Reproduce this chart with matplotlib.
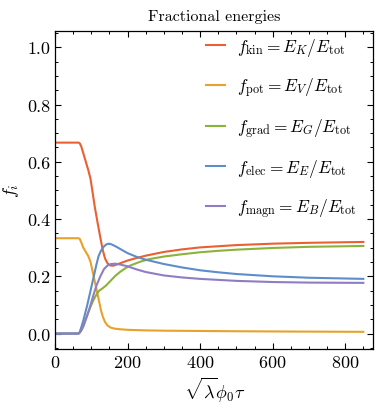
import numpy as np
import matplotlib
matplotlib.use("Agg")
import matplotlib.pyplot as plt
from matplotlib.ticker import MultipleLocator, FormatStrFormatter

plt.rcParams['font.family'] = 'serif'
plt.rcParams['font.serif'] = ['cmr10', 'DejaVu Serif']
plt.rcParams['mathtext.fontset'] = 'cm'
plt.rcParams['axes.formatter.use_mathtext'] = True
plt.rcParams['axes.unicode_minus'] = False

# Data
x_kin = [0, 65, 68, 72, 78, 85, 92, 98, 104, 110, 117, 125, 132, 138, 145, 152, 160, 170,
         185, 200, 225, 250, 300, 350, 400, 450, 500, 600, 700, 850]
y_kin = [0.667, 0.667, 0.665, 0.655, 0.63, 0.60, 0.57, 0.54, 0.49, 0.44, 0.39, 0.335, 0.29,
         0.262, 0.245, 0.238, 0.237, 0.241, 0.248, 0.255, 0.264, 0.272, 0.285, 0.294, 0.301,
         0.305, 0.309, 0.314, 0.317, 0.320]

x_pot = [0, 65, 68, 72, 78, 85, 92, 98, 104, 110, 116, 122, 127, 132, 138, 145, 153, 165,
         180, 200, 250, 300, 400, 500, 650, 850]
y_pot = [0.333, 0.333, 0.331, 0.32, 0.30, 0.285, 0.27, 0.25, 0.215, 0.18, 0.145, 0.11, 0.08,
         0.058, 0.04, 0.028, 0.021, 0.017, 0.015, 0.013, 0.011, 0.010, 0.009, 0.008, 0.007, 0.006]

x_grad = [0, 65, 68, 72, 78, 85, 92, 100, 108, 115, 122, 130, 140, 150, 165, 180, 195, 210,
          235, 260, 300, 350, 400, 450, 500, 600, 700, 850]
y_grad = [0.0, 0.0, 0.003, 0.01, 0.025, 0.05, 0.075, 0.10, 0.122, 0.138, 0.15, 0.157, 0.167,
          0.18, 0.20, 0.216, 0.229, 0.239, 0.251, 0.26, 0.269, 0.277, 0.284, 0.289, 0.293,
          0.299, 0.303, 0.306]

x_elec = [0, 65, 68, 72, 78, 84, 89, 98, 107, 114, 120, 127, 134, 141, 148, 155, 165, 175,
          190, 200, 225, 250, 300, 350, 400, 450, 500, 600, 700, 850]
y_elec = [0.0, 0.0, 0.005, 0.02, 0.045, 0.075, 0.10, 0.15, 0.20, 0.24, 0.27, 0.29, 0.303,
          0.311, 0.314, 0.312, 0.306, 0.299, 0.288, 0.281, 0.268, 0.258, 0.243, 0.231, 0.221,
          0.214, 0.208, 0.200, 0.195, 0.191]

x_magn = [0, 65, 68, 72, 78, 85, 92, 98, 106, 115, 125, 135, 145, 155, 167, 180, 200, 225,
          250, 300, 350, 400, 500, 600, 700, 850]
y_magn = [0.0, 0.0, 0.003, 0.01, 0.025, 0.05, 0.075, 0.10, 0.135, 0.17, 0.20, 0.225, 0.238,
          0.243, 0.244, 0.241, 0.235, 0.224, 0.215, 0.203, 0.196, 0.191, 0.184, 0.180, 0.178,
          0.177]

labels = [r'$f_{\rm kin} = E_K/E_{\rm tot}$',
          r'$f_{\rm pot} = E_V/E_{\rm tot}$',
          r'$f_{\rm grad} = E_G/E_{\rm tot}$',
          r'$f_{\rm elec} = E_E/E_{\rm tot}$',
          r'$f_{\rm magn} = E_B/E_{\rm tot}$']
colors = ['#EB5F33', '#E8A12A', '#8BB33A', '#5E8DC9', '#8E7DC3']

fig = plt.figure(figsize=(3.88, 4.06), dpi=100)
ax = fig.add_axes([55/388, 1-350/406, (373.5-55)/388, (350-32)/406])

series = [(x_kin, y_kin), (x_pot, y_pot), (x_grad, y_grad), (x_elec, y_elec), (x_magn, y_magn)]
for (xs, ys), c, lab in zip(series, colors, labels):
    ax.plot(xs, ys, color=c, lw=1.5, label=lab, solid_joinstyle='round')

ax.set_xlim(0, 878)
ax.set_ylim(-0.054, 1.057)
ax.xaxis.set_major_locator(MultipleLocator(200))
ax.xaxis.set_minor_locator(MultipleLocator(50))
ax.yaxis.set_major_locator(MultipleLocator(0.2))
ax.yaxis.set_minor_locator(MultipleLocator(0.05))
ax.yaxis.set_major_formatter(FormatStrFormatter('%.1f'))
ax.tick_params(which='both', direction='in', top=True, right=True, labelsize=13)
ax.tick_params(which='major', length=4, width=0.8)
ax.tick_params(which='minor', length=2, width=0.7)
for s in ax.spines.values():
    s.set_linewidth(0.9)

ax.set_title('Fractional energies', fontsize=11.5, pad=8)
ax.set_xlabel(r'$\sqrt{\lambda}\phi_0\tau$', fontsize=13, labelpad=4)
ax.set_ylabel(r'$f_i$', fontsize=13)

leg = ax.legend(loc='upper left', frameon=False, fontsize=12.5, labelspacing=0.99,
                handlelength=1.09, handletextpad=0.69, borderaxespad=0.0,
                bbox_to_anchor=(0.452, 1.0063))

fig.savefig('out.png', dpi=100)
